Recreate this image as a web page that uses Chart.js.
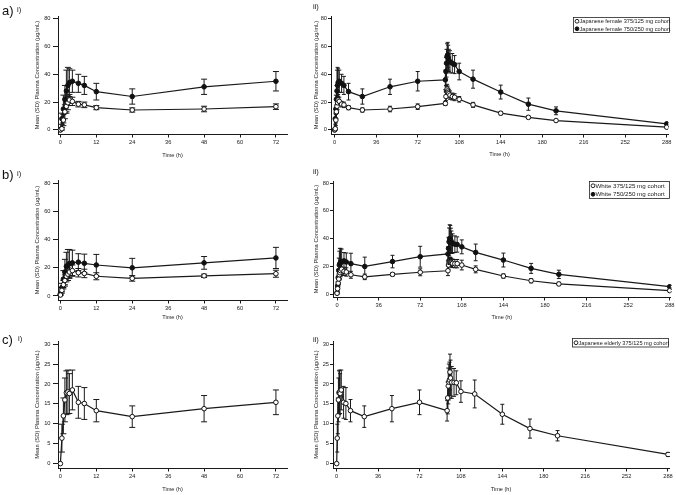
<!DOCTYPE html>
<html>
<head>
<meta charset="utf-8">
<script src="https://cdn.jsdelivr.net/npm/chart.js@4/dist/chart.umd.min.js"></script>
<style>
  html, body { margin: 0; padding: 0; background: #fff; }
  #page { position: relative; width: 676px; height: 495px; overflow: hidden; font-family: "Liberation Sans", Arial, sans-serif; color: #111; }
  #page canvas { position: absolute; }
  .tag { position: absolute; line-height: 1; white-space: nowrap; will-change: transform; color: #111; }
  .big { font-size: 13px; }
  .small { font-size: 7.5px; }
</style>
</head>
<body>
<div id="page">
  <span class="tag big" style="left:2px;top:4px">a)</span>
  <span class="tag small" style="left:17px;top:6px">i)</span>
  <span class="tag small" style="left:313px;top:3px">ii)</span>
  <span class="tag big" style="left:2px;top:168px">b)</span>
  <span class="tag small" style="left:17px;top:170px">i)</span>
  <span class="tag small" style="left:313px;top:168px">ii)</span>
  <span class="tag big" style="left:2px;top:333px">c)</span>
  <span class="tag small" style="left:18px;top:335px">i)</span>
  <span class="tag small" style="left:313px;top:336px">ii)</span>
</div>
<script>
// -------------------------
// Data (hours after first dose)
// -------------------------
const dayOneHours = [0, 0.5, 1, 1.5, 2, 2.5, 3, 4, 6, 8, 12, 24, 48, 72];
const laterHours = [96, 96.5, 97, 97.5, 98, 98.5, 99, 100, 102, 104, 108, 120, 144, 168, 192, 288];
const allHours = dayOneHours.concat(laterHours);

// Japanese female 375/125 mg
const jfLowMean = [0, 0.8, 7, 13, 17, 19.5, 21.5, 20.5, 18.5, 18, 16, 14.3, 15, 16.7,
                   19, 24, 28, 29.3, 28, 27, 26, 25, 24, 23.5, 22, 18, 12, 9, 6.7, 1.9];
const jfLowSd = [0, 1, 4, 5, 5, 5, 4, 3, 2, 2, 1.5, 1.5, 2, 2,
                 1.5, 3, 3.5, 3.5, 3.5, 3, 3, 3, 2.5, 2.5, 2, 1.8, 1.2, 1, 0.8, 0.5];

// Japanese female 750/250 mg
const jfHighMean = [0, 8, 15, 22, 28, 32, 34, 35, 33.5, 32, 27.5, 24, 31, 35,
                    36, 42, 48, 53, 54, 52, 50, 49, 48, 47, 42, 36.5, 27.2, 18.5, 13.7, 4.3];
const jfHighSd = [0, 4, 10, 10, 15, 13, 10, 8, 6.5, 6.5, 6, 5.5, 5.5, 7,
                  7, 10, 10, 9, 9, 9, 8, 8, 7, 6.5, 6, 6.5, 5, 4.4, 2.8, 0.8];

// White 375/125 mg
const whLowMean = [0.7, 4, 8, 11, 14, 15.5, 17, 18, 16.5, 16, 14, 12.5, 14.3, 15.8,
                   16.9, 21, 22.9, 23.7, 23.5, 23, 22.5, 22.2, 22, 22, 21, 17.9, 13.1, 9.7, 7.4, 2.6];
const whLowSd = [0.3, 2, 3, 4, 4, 4.5, 4.5, 4, 3, 3, 2.5, 2, 1.2, 2.5,
                 3.5, 3, 3, 3, 3, 3, 3, 3, 3, 3, 3.5, 2.5, 1.5, 1.5, 1.2, 0.8];

// White 750/250 mg
const whHighMean = [1, 6, 12, 17, 21, 22, 23, 23.5, 24, 23.2, 22, 20, 23.5, 27,
                    29, 33, 37.7, 40, 39.5, 38.5, 37.5, 36.5, 36, 35.8, 34.1, 30.1, 24.6, 18.6, 14.3, 5.4];
const whHighSd = [0.5, 3, 6, 9, 10, 11, 10, 9, 6, 6.5, 7.5, 6.7, 4.5, 7.5,
                  5, 8, 10, 10, 10, 9, 8, 7, 6, 5.5, 5, 6, 5, 3.6, 3, 1];

// Japanese elderly 375/125 mg
const jeLowMean = [0, 6.4, 12, 16, 17.8, 18, 17.6, 18.5, 15.4, 15.1, 13.3, 11.8, 13.8, 15.4,
                   13.3, 16.5, 19.5, 20.5, 21, 23, 21.5, 20.4, 20.4, 20.3, 18.1, 17.5, 12.4, 8.8, 7, 2.3];
const jeLowSd = [0, 3.5, 4.5, 5.5, 5.5, 5.5, 5, 5, 4, 4, 2.8, 2.7, 3.3, 3.1,
                 2.6, 4, 4.5, 4.5, 4.5, 4.5, 4.5, 4, 3.5, 3, 2.7, 3.5, 2.5, 2.4, 1.3, 0.5];

// tick labels
const ticksConc80 = [0, 20, 40, 60, 80];
const ticksConc30 = [0, 5, 10, 15, 20, 25, 30];
const ticksHour72 = [0, 12, 24, 36, 48, 60, 72];
const ticksHour288 = [0, 36, 72, 108, 144, 180, 216, 252, 288];

const yTitle = "Mean (SD) Plasma Concentration (μg/mL)";
const xTitle = "Time (h)";

// -------------------------
// Plugins
// -------------------------
const errorBars = {
    id: "errorBars",
    beforeDatasetsDraw(chart, args, opts) {
        const ctx = chart.ctx;
        const ys = chart.scales.y;
        const area = chart.chartArea;
        const cap = opts.cap || 3;
        ctx.save();
        ctx.strokeStyle = "#1a1a1a";
        ctx.lineWidth = 1;
        chart.data.datasets.forEach((ds, di) => {
            const meta = chart.getDatasetMeta(di);
            meta.data.forEach((pt, i) => {
                const sd = ds.sd[i];
                if (!sd) return;
                const v = ds.data[i].y;
                const top = ys.getPixelForValue(v + sd);
                const bot = Math.min(ys.getPixelForValue(v - sd), area.bottom);
                ctx.beginPath();
                ctx.moveTo(pt.x, top);
                ctx.lineTo(pt.x, bot);
                ctx.moveTo(pt.x - cap, top);
                ctx.lineTo(pt.x + cap, top);
                ctx.moveTo(pt.x - cap, bot);
                ctx.lineTo(pt.x + cap, bot);
                ctx.stroke();
            });
        });
        ctx.restore();
    }
};

const boxLegend = {
    id: "boxLegend",
    afterDraw(chart, args, o) {
        if (!o || !o.w) return;
        const ctx = chart.ctx;
        const rows = chart.data.datasets.length;
        const rowH = (o.h - 1) / rows;
        ctx.save();
        ctx.strokeStyle = "#222";
        ctx.lineWidth = 0.8;
        ctx.fillStyle = "#fff";
        ctx.fillRect(o.x, o.y, o.w, o.h);
        ctx.strokeRect(o.x + 0.5, o.y + 0.5, o.w - 1, o.h - 1);
        ctx.font = o.size + 'px "Liberation Sans", Arial, sans-serif';
        ctx.textBaseline = "middle";
        chart.data.datasets.forEach((ds, i) => {
            const cy = o.y + 0.5 + rowH * (i + 0.5);
            ctx.beginPath();
            ctx.arc(o.x + 4, cy, 1.9, 0, Math.PI * 2);
            ctx.fillStyle = ds.pointBackgroundColor;
            ctx.fill();
            ctx.strokeStyle = "#111";
            ctx.lineWidth = 0.9;
            ctx.stroke();
            ctx.fillStyle = "#1a1a1a";
            ctx.fillText(ds.label, o.x + 6.5, cy + 0.3);
        });
        ctx.restore();
    }
};

// -------------------------
// Chart builder
// -------------------------
const FONT = '"Liberation Sans", Arial, sans-serif';

function makeSeries(label, mean, sd, filled, n) {
    return {
        label: label,
        data: allHours.slice(0, n).map((h, i) => ({ x: h, y: mean[i] })),
        sd: sd.slice(0, n),
        borderColor: "#1a1a1a",
        borderWidth: 1.2,
        pointRadius: 2.3,
        pointBorderWidth: 1,
        pointBorderColor: "#111",
        pointBackgroundColor: filled ? "#111" : "#fff",
        tension: 0
    };
}

function makePanel(p) {
    const page = document.getElementById("page");
    const cv = document.createElement("canvas");
    const [bx, by, bw, bh] = p.box;
    const [al, at, ar, ab] = p.area;
    cv.width = bw;
    cv.height = bh;
    cv.style.left = bx + "px";
    cv.style.top = by + "px";
    cv.style.width = bw + "px";
    cv.style.height = bh + "px";
    page.appendChild(cv);

    const yFont = 5.8, xFont = 5.6, tickFont = 5.7;
    const yAxisW = al - bx;
    const xAxisH = by + bh - ab;

    new Chart(cv, {
        type: "line",
        data: { datasets: p.series },
        plugins: p.legend ? [errorBars, boxLegend] : [errorBars],
        options: {
            responsive: false,
            animation: false,
            devicePixelRatio: 1,
            layout: {
                autoPadding: false,
                padding: { left: 0, top: at - by, right: bx + bw - ar, bottom: 0 }
            },
            plugins: {
                legend: { display: false },
                tooltip: { enabled: false },
                errorBars: { cap: p.cap },
                boxLegend: p.legend || {}
            },
            scales: {
                x: {
                    type: "linear",
                    min: p.xr[0],
                    max: p.xr[1],
                    afterBuildTicks: s => { s.ticks = p.xt.map(v => ({ value: v })); },
                    afterFit: s => { s.height = xAxisH; },
                    grid: { display: true, drawOnChartArea: false, drawTicks: true, tickLength: 3.5, color: "#1a1a1a", lineWidth: 1 },
                    border: { display: true, color: "#1a1a1a", width: 1 },
                    ticks: { font: { family: FONT, size: tickFont }, color: "#222", padding: 1.5, maxRotation: 0, autoSkip: false },
                    title: {
                        display: true, text: xTitle, color: "#222",
                        font: { family: FONT, size: xFont },
                        padding: { top: 0, bottom: (by + bh - p.xTitleY) - xFont * 0.6 }
                    }
                },
                y: {
                    type: "linear",
                    min: p.yr[0],
                    max: p.yr[1],
                    afterBuildTicks: s => { s.ticks = p.yt.map(v => ({ value: v })); },
                    afterFit: s => { s.width = yAxisW; },
                    grid: { display: true, drawOnChartArea: false, drawTicks: true, tickLength: p.tick[0], color: "#1a1a1a", lineWidth: 1 },
                    border: { display: true, color: "#1a1a1a", width: 1 },
                    ticks: { font: { family: FONT, size: tickFont }, color: "#222", padding: p.tick[1], autoSkip: false },
                    title: {
                        display: true, text: yTitle, color: "#222",
                        font: { family: FONT, size: yFont },
                        padding: { top: (p.yTitleX - bx) - yFont * 0.6, bottom: 0 }
                    }
                }
            }
        }
    });
}

const n1 = dayOneHours.length;
const nAll = allHours.length;

const panels = [
    {
        box: [0, 0, 300, 165], area: [58, 16, 287, 134],
        xr: [-0.8, 75.7], yr: [-3, 82], xt: ticksHour72, yt: ticksConc80,
        yTitleX: 37, xTitleY: 155, cap: 3, tick: [5, 2.5],
        series: [
            makeSeries("Japanese female 375/125 mg cohort", jfLowMean, jfLowSd, false, n1),
            makeSeries("Japanese female 750/250 mg cohort", jfHighMean, jfHighSd, true, n1)
        ]
    },
    {
        box: [300, 0, 376, 165], area: [331, 16, 668, 134],
        xr: [-3.2, 289.1], yr: [-3, 82], xt: ticksHour288, yt: ticksConc80,
        yTitleX: 316, xTitleY: 154, cap: 2, tick: [3, 1],
        legend: { x: 273, y: 17, w: 97, h: 16, size: 5.6 },
        series: [
            makeSeries("Japanese female 375/125 mg cohort", jfLowMean, jfLowSd, false, nAll),
            makeSeries("Japanese female 750/250 mg cohort", jfHighMean, jfHighSd, true, nAll)
        ]
    },
    {
        box: [0, 165, 300, 165], area: [58, 180, 287, 300],
        xr: [-0.8, 75.7], yr: [-2.85, 82.3], xt: ticksHour72, yt: ticksConc80,
        yTitleX: 37, xTitleY: 317, cap: 3, tick: [5, 2.5],
        series: [
            makeSeries("White 375/125 mg cohort", whLowMean, whLowSd, false, n1),
            makeSeries("White 750/250 mg cohort", whHighMean, whHighSd, true, n1)
        ]
    },
    {
        box: [300, 165, 376, 165], area: [333, 181, 671, 297],
        xr: [-3.5, 288.9], yr: [-2, 81.5], xt: ticksHour288, yt: ticksConc80,
        yTitleX: 316, xTitleY: 317, cap: 2, tick: [3, 1],
        legend: { x: 289, y: 16, w: 81, h: 18, size: 6.2 },
        series: [
            makeSeries("White 375/125 mg cohort", whLowMean, whLowSd, false, nAll),
            makeSeries("White 750/250 mg cohort", whHighMean, whHighSd, true, nAll)
        ]
    },
    {
        box: [0, 330, 300, 165], area: [58, 341, 287, 468],
        xr: [-0.8, 75.7], yr: [-1.1, 30.8], xt: ticksHour72, yt: ticksConc30,
        yTitleX: 37, xTitleY: 489, cap: 3, tick: [5, 2.5],
        series: [
            makeSeries("Japanese elderly 375/125 mg cohort", jeLowMean, jeLowSd, false, n1)
        ]
    },
    {
        box: [300, 330, 376, 165], area: [333, 341, 669, 468],
        xr: [-3.2, 288.9], yr: [-1.1, 30.8], xt: ticksHour288, yt: ticksConc30,
        yTitleX: 316, xTitleY: 489, cap: 2, tick: [3, 1],
        legend: { x: 272, y: 8, w: 97, h: 9.5, size: 5.6 },
        series: [
            makeSeries("Japanese elderly 375/125 mg cohort", jeLowMean, jeLowSd, false, nAll)
        ]
    }
];

panels.forEach(makePanel);
</script>
</body>
</html>
